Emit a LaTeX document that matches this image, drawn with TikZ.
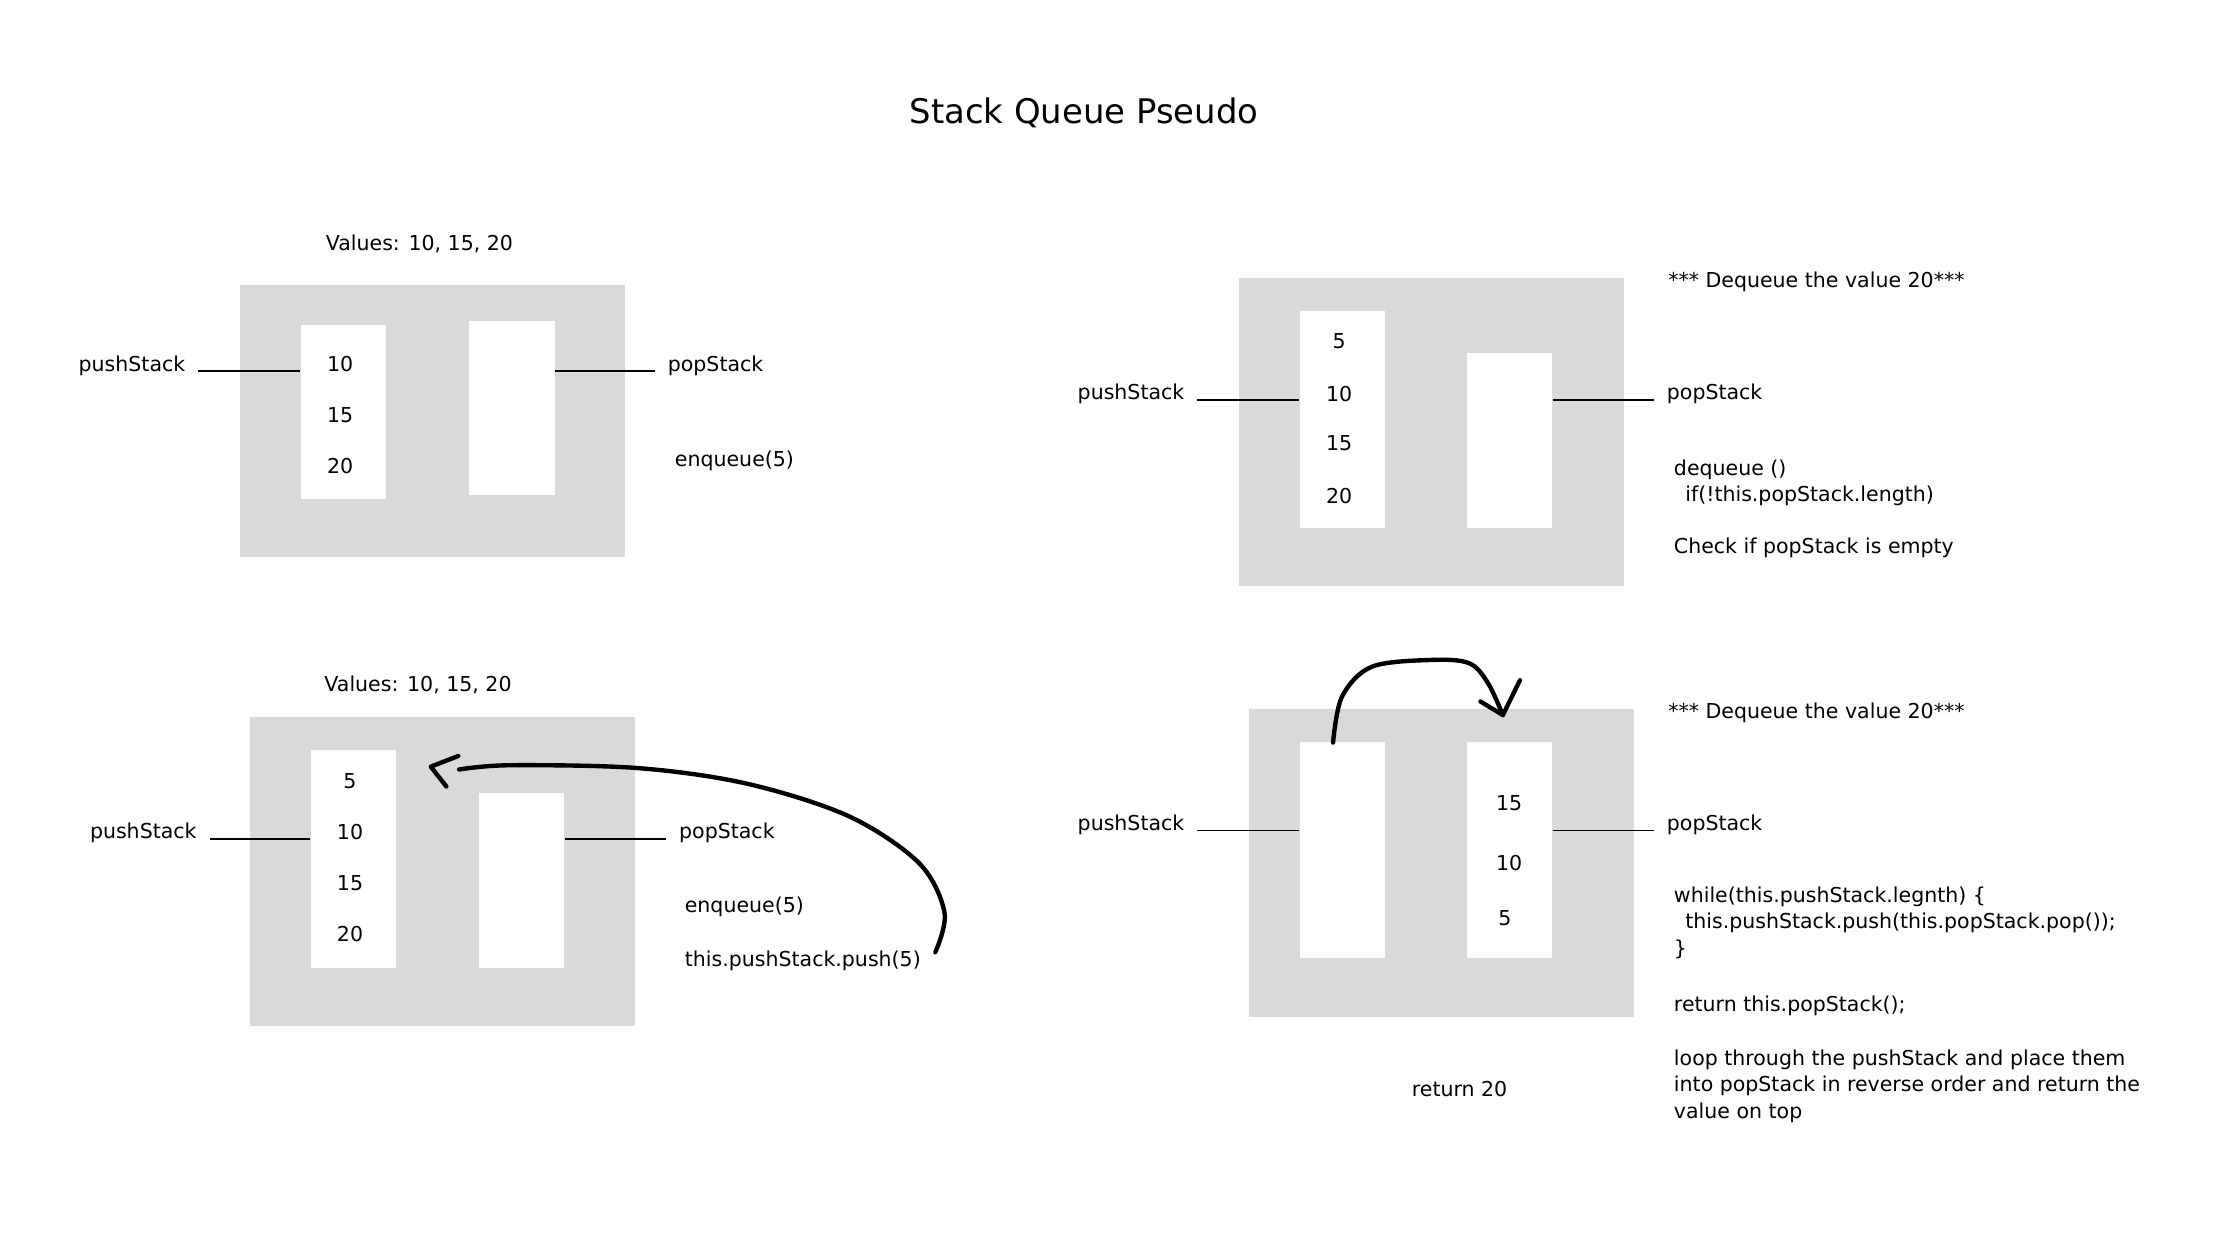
\documentclass[tikz,border=0pt]{standalone}
\usepackage{fontspec}
\setmainfont{DejaVu Sans}
\usepackage{tikz}
\usetikzlibrary{positioning}
\definecolor{boxgray}{HTML}{D9D9D9}
\tikzset{
  panelbox/.style={
    fill=boxgray,
    draw=none,
    minimum width=6.8cm,
    anchor=north west,
    inner sep=0pt
  },
  stackcol/.style={
    fill=white,
    draw=none,
    minimum width=1.5cm,
    anchor=north west,
    inner sep=0pt
  },
  txt/.style={
    font=\fontsize{10.3}{13.3}\selectfont,
    inner sep=0pt
  },
  sidelbl/.style={
    txt,
    inner xsep=0.225cm
  },
  codetxt/.style={
    txt,
    align=left,
    anchor=base west
  },
  wire/.style={
    draw=black,
    line width=0.9pt
  },
  handline/.style={
    draw=black,
    line width=2.2pt,
    line cap=round,
    line join=round
  }
}

\begin{document}
\begin{tikzpicture}[x=0.025cm, y=-0.025cm]
    \path[use as bounding box, fill=white] (0,0) rectangle (1568,871.5);

    \node[txt, font=\fontsize{17}{21}\selectfont, anchor=base] (title) at (765,87.5) {Stack Queue Pseudo};

    % enqueue, before
    \node[txt, anchor=base] (valuesa) at (296,177) {Values: 10, 15, 20};
    \node[panelbox, minimum height=4.8cm] (panela) at (169,201) {};
    \node[stackcol, minimum height=3.075cm] (pusha) at (212,229) {};
    \node[stackcol, minimum height=3.075cm] (popa) at (331,226) {};
    \node[txt] (a10) at (240,257) {10};
    \node[txt] (a15) at (240,293) {15};
    \node[txt] (a20) at (240,329) {20};
    \node[sidelbl, anchor=base east] (pushlbla) at (140,262) {pushStack};
    \node[sidelbl, anchor=base west] (poplbla) at (462,262) {popStack};
    \node[codetxt] (enqa) at (476,329.5) {enqueue(5)};

    \draw[wire] (pushlbla.base east) -- (pushlbla.base east -| pusha.west);
    \draw[wire] (popa.east |- poplbla.base west) -- (poplbla.base west);

    % enqueue, after
    \node[txt, anchor=base] (valuesb) at (295,488) {Values: 10, 15, 20};
    \node[panelbox, minimum height=5.45cm] (panelb) at (176,506) {};
    \node[stackcol, minimum height=3.85cm] (pushb) at (219,529) {};
    \node[stackcol, minimum height=3.1cm] (popb) at (338,559) {};
    \node[txt] (b5) at (247,551.5) {5};
    \node[txt] (b10) at (247,587) {10};
    \node[txt] (b15) at (247,623) {15};
    \node[txt] (b20) at (247,659) {20};
    \node[sidelbl, anchor=base east] (pushlblb) at (148,592) {pushStack};
    \node[sidelbl, anchor=base west] (poplblb) at (470,592) {popStack};
    \node[codetxt] (enqb) at (483,644) {enqueue(5)};
    \node[codetxt] (pushcallb) at (483,682) {this.pushStack.push(5)};

    \draw[wire] (pushlblb.base east) -- (pushlblb.base east -| pushb.west);
    \draw[wire] (popb.east |- poplblb.base west) -- (poplblb.base west);

    \coordinate (fromb) at (660,672);
    \coordinate (tob) at (324,543);
    \coordinate (tipb) at (304,541);
    \draw[handline] plot[smooth, tension=0.55] coordinates {(fromb) (666.5,644) (648.5,609) (599,576) (527,553) (450,542) (360,540) (tob)};
    \draw[handline] (323.4,533.5) -- (tipb) -- (315,555);

    % dequeue, check
    \node[panelbox, minimum height=5.425cm] (panelc) at (874,196) {};
    \node[stackcol, minimum height=3.825cm] (pushc) at (917,219) {};
    \node[stackcol, minimum height=3.075cm] (popc) at (1035,249) {};
    \node[txt] (c5) at (945,241) {5};
    \node[txt] (c10) at (945,278) {10};
    \node[txt] (c15) at (945,313) {15};
    \node[txt] (c20) at (945,350) {20};
    \node[sidelbl, anchor=base east] (pushlblc) at (845,282) {pushStack};
    \node[sidelbl, anchor=base west] (poplblc) at (1167,282) {popStack};
    \node[codetxt] (deqc) at (1177,203) {*** Dequeue the value 20***};
    \node[codetxt] (codec) at (1181,354) {dequeue ()\\\hspace*{0.2cm}if(!this.popStack.length)};
    \node[codetxt] (checkc) at (1181,390.5) {Check if popStack is empty};

    \draw[wire] (pushlblc.base east) -- (pushlblc.base east -| pushc.west);
    \draw[wire] (popc.east |- poplblc.base west) -- (poplblc.base west);

    % dequeue, move
    \node[panelbox, minimum height=5.425cm] (paneld) at (881,500) {};
    \node[stackcol, minimum height=3.825cm] (pushd) at (917,523) {};
    \node[stackcol, minimum height=3.825cm] (popd) at (1035,523) {};
    \node[txt] (d15) at (1065,566.5) {15};
    \node[txt] (d10) at (1065,609) {10};
    \node[txt] (d5) at (1062,648) {5};
    \node[sidelbl, anchor=base east] (pushlbld) at (845,586) {pushStack};
    \node[sidelbl, anchor=base west] (poplbld) at (1167,586) {popStack};
    \node[codetxt] (deqd) at (1177,507) {*** Dequeue the value 20***};
    \node[codetxt] (coded) at (1181,674) {while(this.pushStack.legnth) \{\\\hspace*{0.2cm}this.pushStack.push(this.popStack.pop());\\\}};
    \node[codetxt] (retd) at (1181,714) {return this.popStack();};
    \node[codetxt] (noted) at (1181,789) {loop through the pushStack and place them\\into popStack in reverse order and return the\\value on top};
    \node[txt, anchor=base] (ret20) at (1030,774) {return 20};

    \draw[wire] (pushlbld.base east) -- (pushlbld.base east -| pushd.west);
    \draw[wire] (popd.east |- poplbld.base west) -- (poplbld.base west);

    \coordinate (fromd) at (940.7,524);
    \coordinate (tipd) at (1060.5,504.6);
    \draw[handline] plot[smooth, tension=0.55] coordinates {(fromd) (947,491.6) (968,470.5) (1010,465.7) (1036.7,468) (1050,482) (tipd)};
    \draw[handline] (1044.7,495) -- (tipd) -- (1072.6,480);
\end{tikzpicture}
\end{document}
